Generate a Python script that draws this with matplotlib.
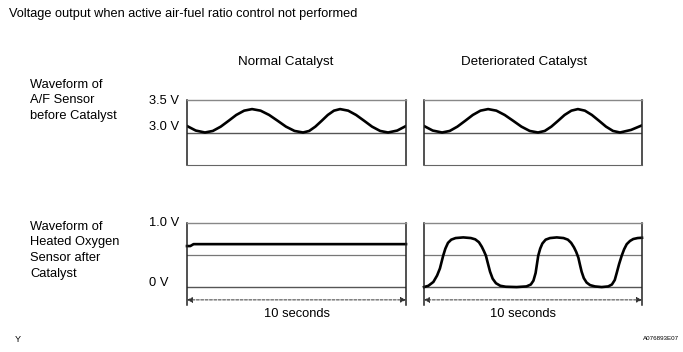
import matplotlib
matplotlib.use("Agg")
import matplotlib.pyplot as plt

plt.rcParams['font.family'] = ['Liberation Sans', 'DejaVu Sans']

# A/F sensor before catalyst (seconds, volts)
af_normal_t = [0, 0.4, 0.82, 1.18, 1.54, 1.90, 2.25, 2.61, 2.97, 3.36, 3.75, 4.14, 4.52,
               4.91, 5.30, 5.58, 5.86, 6.15, 6.43, 6.71, 6.99, 7.36, 7.72, 8.09, 8.45,
               8.82, 9.18, 9.6, 10]
af_normal_v = [3.10, 3.03, 3.00, 3.024, 3.09, 3.18, 3.27, 3.336, 3.36, 3.336, 3.27, 3.18,
               3.09, 3.024, 3.00, 3.024, 3.09, 3.18, 3.27, 3.336, 3.36, 3.336, 3.27, 3.18,
               3.09, 3.024, 3.00, 3.03, 3.10]
af_det_t = [0, 0.4, 0.83, 1.18, 1.53, 1.89, 2.24, 2.59, 2.94, 3.32, 3.70, 4.09, 4.47,
            4.85, 5.23, 5.54, 5.84, 6.15, 6.45, 6.76, 7.06, 7.38, 7.70, 8.03, 8.35,
            8.67, 8.99, 9.5, 10]
af_det_v = [3.10, 3.03, 3.00, 3.024, 3.09, 3.18, 3.27, 3.336, 3.36, 3.336, 3.27, 3.18,
            3.09, 3.024, 3.00, 3.024, 3.09, 3.18, 3.27, 3.336, 3.36, 3.336, 3.27, 3.18,
            3.09, 3.024, 3.00, 3.04, 3.11]

# heated oxygen sensor after catalyst (seconds, volts)
o2_normal_t = [0, 0.15, 0.3, 10]
o2_normal_v = [0.64, 0.64, 0.67, 0.67]
o2_det_t = [0, 0.2, 0.43, 0.6, 0.73, 0.88, 0.98, 1.10, 1.25, 1.45, 1.80, 2.15, 2.35,
            2.52, 2.65, 2.75, 2.84, 2.93, 3.03, 3.15, 3.30, 3.50, 3.75, 4.25, 4.70,
            4.90, 5.02, 5.12, 5.24, 5.33, 5.43, 5.58, 5.78, 6.09, 6.40, 6.60, 6.75,
            6.88, 6.98, 7.08, 7.16, 7.23, 7.33, 7.46, 7.62, 7.84, 8.15, 8.45, 8.62,
            8.75, 8.84, 8.95, 9.07, 9.18, 9.30, 9.45, 9.60, 9.80, 10]
o2_det_v = [0.0, 0.02, 0.08, 0.18, 0.29, 0.49, 0.60, 0.69, 0.74, 0.765, 0.775, 0.765, 0.745,
            0.70, 0.63, 0.56, 0.49, 0.37, 0.24, 0.13, 0.06, 0.02, 0.005, 0.0, 0.01,
            0.04, 0.10, 0.22, 0.49, 0.60, 0.68, 0.74, 0.765, 0.775, 0.765, 0.74, 0.69,
            0.62, 0.55, 0.46, 0.34, 0.24, 0.14, 0.07, 0.03, 0.01, 0.0, 0.01, 0.04,
            0.11, 0.22, 0.36, 0.49, 0.59, 0.67, 0.72, 0.75, 0.765, 0.77]

col_titles = ['Normal Catalyst', 'Deteriorated Catalyst']
row_titles = ['Waveform of\nA/F Sensor\nbefore Catalyst',
              'Waveform of\nHeated Oxygen\nSensor after\nCatalyst']

W, H = 683, 352
FS = 9.3


def fx(px):
    return px / W


def fy(py):
    return 1 - py / H


fig = plt.figure(figsize=(W / 100, H / 100), dpi=100)
fig.patch.set_facecolor('white')

lefts = [187, 424]
widths = [219, 218]
title_x = [285.5, 524]
secs_x = [297, 523.5]
top_series = [(af_normal_t, af_normal_v), (af_det_t, af_det_v)]
bot_series = [(o2_normal_t, o2_normal_v), (o2_det_t, o2_det_v)]


def style(ax):
    ax.set_xticks([])
    ax.set_yticks([])
    ax.set_xlim(0, 10)
    for s in ['left', 'right']:
        ax.spines[s].set_color('#222222')
        ax.spines[s].set_linewidth(1.1)
    ax.spines['top'].set_color('#888888')
    ax.spines['top'].set_linewidth(1.0)


for i in range(2):
    # upper panel
    ax = fig.add_axes([fx(lefts[i]), fy(165), fx(widths[i]), 65 / H])
    style(ax)
    ax.spines['bottom'].set_color('#666666')
    ax.set_ylim(2.5, 3.5)
    ax.axhline(3.0, color='#555555', lw=1.0)
    t, v = top_series[i]
    ax.plot(t, v, color='black', lw=1.9, solid_joinstyle='round')

    # lower panel
    ax = fig.add_axes([fx(lefts[i]), fy(305), fx(widths[i]), 82 / H])
    style(ax)
    ax.spines['bottom'].set_visible(False)
    ax.set_ylim(-0.28, 1.0)
    ax.axhline(0.5, color='#777777', lw=0.9)
    ax.axhline(0.0, color='#555555', lw=1.0)
    t, v = bot_series[i]
    ax.plot(t, v, color='black', lw=1.9, solid_joinstyle='round', clip_on=False)
    ax.annotate('', xy=(0, -0.2), xytext=(10, -0.2),
                arrowprops=dict(arrowstyle='<|-|>', color='#333333', lw=0.7,
                                ls=(0, (3, 1.5)), mutation_scale=8,
                                shrinkA=0, shrinkB=0))
    fig.text(fx(secs_x[i]), fy(314), '10 seconds',
             ha='center', va='center', fontsize=FS)
    fig.text(fx(title_x[i]), fy(62), col_titles[i],
             ha='center', va='center', fontsize=9.6)

fig.text(fx(9), fy(14), 'Voltage output when active air-fuel ratio control not performed',
         ha='left', va='center', fontsize=9.2)

fig.text(fx(30), fy(78.5), row_titles[0], ha='left', va='top', fontsize=FS,
         linespacing=1.42)
fig.text(fx(30), fy(220.5), row_titles[1], ha='left', va='top', fontsize=FS,
         linespacing=1.42)

for label, y in [('3.5 V', 101), ('3.0 V', 127), ('1.0 V', 223), ('0 V', 283)]:
    fig.text(fx(149), fy(y), label, ha='left', va='center', fontsize=FS)

fig.text(fx(15), fy(340), 'Y', ha='left', va='center', fontsize=6.5)
fig.text(fx(679), fy(339), 'A076893E07', ha='right', va='center', fontsize=4.5)

fig.savefig('out.png', dpi=100, facecolor='white')
